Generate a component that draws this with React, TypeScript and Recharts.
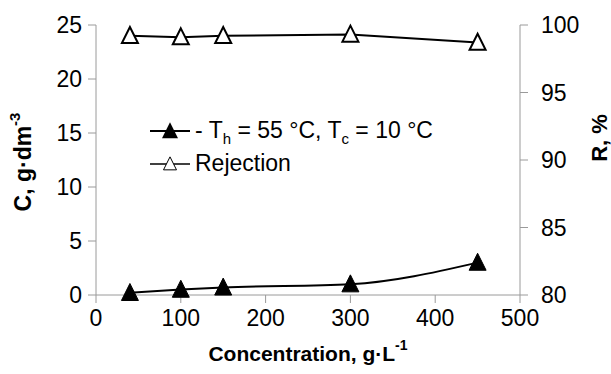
import { LineChart, Line, XAxis, YAxis, Legend } from 'recharts';

const concentration = [40, 100, 150, 300, 450];
const permeateC = [0.2, 0.5, 0.7, 1.0, 3.0];
const rejection = [99.2, 99.1, 99.2, 99.3, 98.7];

const xTicks = [0, 100, 200, 300, 400, 500];
const leftTicks = [0, 5, 10, 15, 20, 25];
const rightTicks = [80, 85, 90, 95, 100];

const data = concentration.map((x, i) => ({
  x,
  c: permeateC[i],
  r: rejection[i],
}));

const FONT = '"Liberation Sans", Arial, sans-serif';
const AXIS_COLOR = '#9a9a9a';

const triPoints = (cx: number, cy: number, s: number) =>
  `${cx},${cy - s * 0.55} ${cx + s / 2},${cy + s * 0.45} ${cx - s / 2},${cy + s * 0.45}`;

const FilledTriangle = (props: any) => {
  const { cx, cy, index } = props;
  if (cx == null || cy == null) return null;
  return <polygon key={`f-${index}`} points={triPoints(cx, cy, 17)} fill="#000" stroke="#000" />;
};

const OpenTriangle = (props: any) => {
  const { cx, cy, index } = props;
  if (cx == null || cy == null) return null;
  return (
    <polygon
      key={`o-${index}`}
      points={triPoints(cx, cy, 16)}
      fill="#fff"
      stroke="#000"
      strokeWidth={2}
    />
  );
};

const LeftTitle = ({ viewBox }: any) => {
  const cx = viewBox.x + 23;
  const cy = viewBox.y + viewBox.height / 2 + 2;
  return (
    <text
      x={cx}
      y={cy}
      transform={`rotate(-90, ${cx}, ${cy})`}
      textAnchor="middle"
      dominantBaseline="central"
      fontWeight="bold"
      fontSize={23}
      fontFamily={FONT}
      fill="#000"
    >
      C, g·dm
      <tspan dy={-9} fontSize={15}>
        -3
      </tspan>
    </text>
  );
};

const RightTitle = ({ viewBox }: any) => {
  const cx = viewBox.x + 79;
  const cy = viewBox.y + viewBox.height / 2 - 22;
  return (
    <text
      x={cx}
      y={cy}
      transform={`rotate(-90, ${cx}, ${cy})`}
      textAnchor="middle"
      dominantBaseline="central"
      fontWeight="bold"
      fontSize={22}
      fontFamily={FONT}
      fill="#000"
    >
      R, %
    </text>
  );
};

const BottomTitle = ({ viewBox }: any) => {
  const cx = viewBox.x + viewBox.width / 2;
  const cy = viewBox.y + 58;
  return (
    <text
      x={cx}
      y={cy}
      textAnchor="middle"
      dominantBaseline="central"
      fontWeight="bold"
      fontSize={21}
      fontFamily={FONT}
      fill="#000"
    >
      Concentration, g·L
      <tspan dy={-8} fontSize={14}>
        -1
      </tspan>
    </text>
  );
};

const LegendBox = () => {
  const row = { display: 'flex', alignItems: 'center', height: 33 } as const;
  const sub = { fontSize: 15, verticalAlign: -6, lineHeight: 0 } as const;
  return (
    <div style={{ fontFamily: FONT, fontSize: 23, color: '#000' }}>
      <div style={row}>
        <svg width={40} height={20}>
          <line x1={0} y1={10} x2={40} y2={10} stroke="#000" strokeWidth={2} />
          <polygon points={triPoints(20, 10, 16)} fill="#000" />
        </svg>
        <span style={{ marginLeft: 5 }}>
          - T<span style={sub}>h</span> = 55 °C, T<span style={sub}>c</span> = 10 °C
        </span>
      </div>
      <div style={row}>
        <svg width={40} height={20}>
          <line x1={0} y1={10} x2={40} y2={10} stroke="#000" strokeWidth={1.5} />
          <polygon points={triPoints(20, 10, 13)} fill="#fff" stroke="#000" strokeWidth={1} />
        </svg>
        <span style={{ marginLeft: 5 }}>Rejection</span>
      </div>
    </div>
  );
};

export default function App() {
  const tick = { fill: '#000', fontSize: 23, fontFamily: FONT };
  return (
    <div style={{ position: 'absolute', left: 0, top: 0, background: '#fff' }}>
      <LineChart
        width={611}
        height={374}
        data={data}
        margin={{ top: 25, right: 0, bottom: 0, left: 0 }}
        style={{ fontFamily: FONT }}
      >
        <XAxis
          dataKey="x"
          type="number"
          domain={[0, 500]}
          ticks={xTicks}
          height={79}
          tick={tick}
          tickSize={8}
          tickMargin={7}
          stroke={AXIS_COLOR}
          label={<BottomTitle />}
        />
        <YAxis
          yAxisId="left"
          orientation="left"
          domain={[0, 25]}
          ticks={leftTicks}
          width={96}
          tick={tick}
          tickSize={8}
          tickMargin={6}
          stroke={AXIS_COLOR}
          label={<LeftTitle />}
        />
        <YAxis
          yAxisId="right"
          orientation="right"
          domain={[80, 100]}
          ticks={rightTicks}
          width={91}
          tick={tick}
          tickSize={8}
          tickMargin={13}
          stroke={AXIS_COLOR}
          label={<RightTitle />}
        />
        <Legend
          layout="vertical"
          align="center"
          verticalAlign="middle"
          content={<LegendBox />}
          wrapperStyle={{ position: 'absolute', left: 150, top: 114, width: 'auto' }}
        />
        <Line
          yAxisId="left"
          dataKey="c"
          type="monotone"
          stroke="#000"
          strokeWidth={2}
          dot={FilledTriangle}
          activeDot={false}
          isAnimationActive={false}
        />
        <Line
          yAxisId="right"
          dataKey="r"
          type="linear"
          stroke="#000"
          strokeWidth={2}
          dot={OpenTriangle}
          activeDot={false}
          isAnimationActive={false}
        />
      </LineChart>
    </div>
  );
}
